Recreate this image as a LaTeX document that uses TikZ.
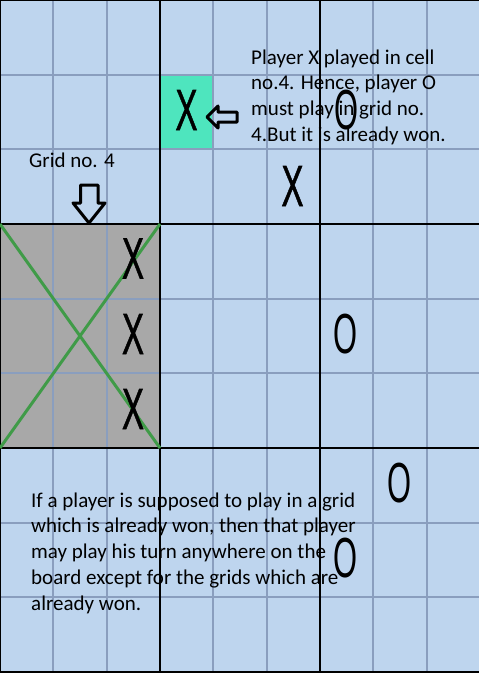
\documentclass[tikz,border=0pt]{standalone}
\usepackage{fontspec}
\setmainfont{Carlito}
\newfontfamily\markfont[FakeBold=1.2]{Liberation Sans}
\newfontfamily\omarkfont{Liberation Sans}
\begin{document}
\begin{tikzpicture}[x=1pt,y=-1pt,
  thinline/.style={draw=gridc,line width=1.8pt},
  thickline/.style={draw=black,line width=2.2pt},
  winline/.style={draw=wingreen,line width=3pt},
  note/.style={font=\fontsize{21}{25.8}\selectfont,inner sep=0pt,align=left,text=black},
  markX/.style={inner sep=0pt,font=\markfont,text=black},
  markO/.style={inner sep=0pt,font=\omarkfont,text=black},
  arrowshape/.style={draw=black,line width=3pt,line join=round,fill=none}]
\definecolor{bgblue}{RGB}{190,213,238}
\definecolor{gridc}{RGB}{138,158,190}
\definecolor{wongray}{RGB}{168,168,168}
\definecolor{cellgreen}{RGB}{78,229,190}
\definecolor{wingreen}{RGB}{64,155,72}
\useasboundingbox (0,0) rectangle (479,673);
\clip (0,0) rectangle (479,673);
% background
\fill[bgblue] (0,0) rectangle (480,672);
\fill[wongray] (0,224) rectangle (160,448);
\fill[cellgreen] (160,74.67) rectangle (213.33,149.33);
% thin grid lines
\foreach \i in {1,2,4,5,7,8} {
  \draw[thinline] ({\i*53.333},0) -- ({\i*53.333},672);
  \draw[thinline] (0,{\i*74.667}) -- (480,{\i*74.667});
}
% thick lines
\foreach \i in {0,3,6,9} {
  \draw[thickline] ({\i*53.333},0) -- ({\i*53.333},672);
  \draw[thickline] (0,{\i*74.667}) -- (480,{\i*74.667});
}
% won grid diagonals
\coordinate (g1) at (0,224);
\coordinate (g2) at (160,224);
\coordinate (g3) at (160,448);
\coordinate (g4) at (0,448);
\draw[winline] (g1) -- (g3);
\draw[winline] (g2) -- (g4);
% marks
\node[markX] (x1) at (186.5,110) {\resizebox{22pt}{40pt}{X}};
\node[markX] (x2) at (292.5,186) {\resizebox{22pt}{40pt}{X}};
\node[markX] (x3) at (133,258.5) {\resizebox{22pt}{40pt}{X}};
\node[markX] (x4) at (133,334) {\resizebox{22pt}{40pt}{X}};
\node[markX] (x5) at (133,409) {\resizebox{22pt}{40pt}{X}};
\node[markO] (o1) at (346,110) {\resizebox*{24pt}{40pt}{O}};
\node[markO] (o2) at (345,334) {\resizebox*{24pt}{40pt}{O}};
\node[markO] (o3) at (399,483) {\resizebox*{24pt}{40pt}{O}};
\node[markO] (o4) at (345.5,558) {\resizebox*{24pt}{40pt}{O}};
% arrows
\draw[arrowshape] (207,117) -- (218,106) -- (218,112) -- (237,112) -- (237,122) -- (218,122) -- (218,128) -- cycle;
\draw[arrowshape] (89,223) -- (73,203) -- (80.5,203) -- (80.5,185) -- (98,185) -- (98,203) -- (105,203) -- cycle;
% texts (base anchor = last line)
\node[note,anchor=base west] (t1) at (251,141.4) {Player X played in cell\\no.4. Hence, player O\\must play in grid no.\\4.But it is already won.};
\node[note,anchor=base west] (t2) at (29,167) {Grid no. 4};
\node[note,anchor=base west] (t3) at (31,610.2) {If a player is supposed to play in a grid\\which is already won, then that player\\may play his turn anywhere on the\\board except for the grids which are\\already won.};
\end{tikzpicture}
\end{document}
